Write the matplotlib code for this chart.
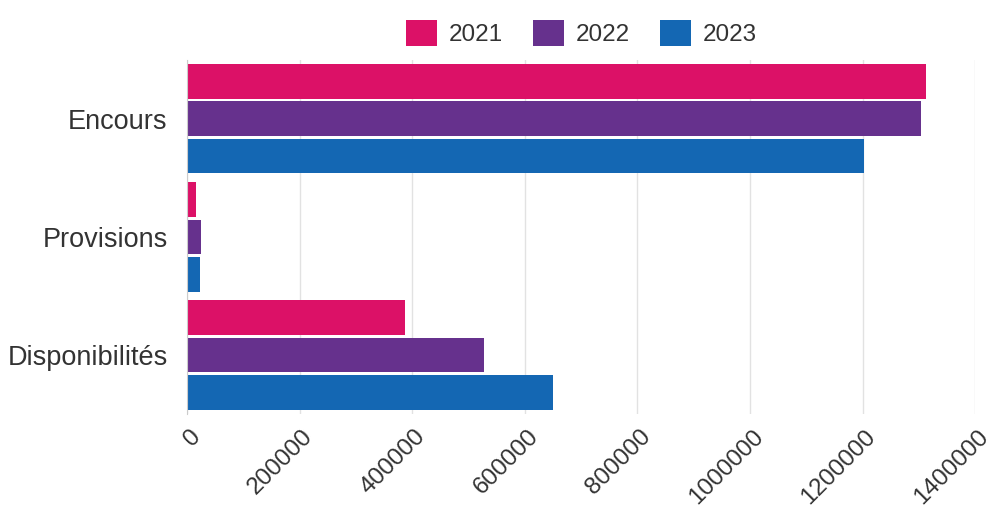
import matplotlib
matplotlib.use("Agg")
import matplotlib.pyplot as plt
import matplotlib.transforms as mtransforms
import numpy as np

plt.rcParams['font.family'] = ['Liberation Sans', 'DejaVu Sans']

categories = ["Encours", "Provisions", "Disponibilités"]
years = ["2021", "2022", "2023"]
values_2021 = [1313000, 16000, 387000]
values_2022 = [1304000, 25000, 528000]
values_2023 = [1203000, 23000, 650000]
colors = ["#DC1167", "#66318D", "#1467B3"]
xticks = [0, 200000, 400000, 600000, 800000, 1000000, 1200000, 1400000]

fig = plt.figure(figsize=(9.9, 5.08), dpi=100)
ax = fig.add_axes([0.189, 0.185, 0.796, 0.697])

y = np.arange(len(categories))
step = 0.314
height = 0.296
series = [values_2021, values_2022, values_2023]
for k, (vals, year, col) in enumerate(zip(series, years, colors)):
    ax.barh(y + (k - 1) * step, vals, height=height, color=col, label=year,
            zorder=3, linewidth=0)

ax.set_xlim(0, 1400000)
ax.set_ylim(2.5, -0.5)
ax.set_yticks(y)
ax.set_yticklabels(categories, fontsize=19.5, color="#333333")
ax.set_xticks(xticks)
ax.set_xticklabels([str(t) for t in xticks], fontsize=17.5, color="#333333",
                   rotation=45, ha="right", va="center", rotation_mode="anchor")
ax.tick_params(axis="both", length=0)
ax.tick_params(axis="y", pad=14)
ax.tick_params(axis="x", pad=0)

# shift rotated tick labels so their ends sit just right of the ticks
offset = mtransforms.ScaledTranslation(0.10, -0.19, fig.dpi_scale_trans)
for lab in ax.get_xticklabels():
    lab.set_transform(lab.get_transform() + offset)

ax.grid(axis="x", color="#e2e2e2", linewidth=1, zorder=0)
for s in ["top", "right", "bottom"]:
    ax.spines[s].set_visible(False)
ax.spines["left"].set_color("#cccccc")
ax.spines["left"].set_zorder(4)

ax.legend(loc="center", bbox_to_anchor=(0.5, 1.077), ncol=3, frameon=False,
          fontsize=17.5, handlelength=1.3, handleheight=1.27,
          handletextpad=0.45, columnspacing=1.25, labelcolor="#333333")

fig.savefig("out.png", dpi=100)
